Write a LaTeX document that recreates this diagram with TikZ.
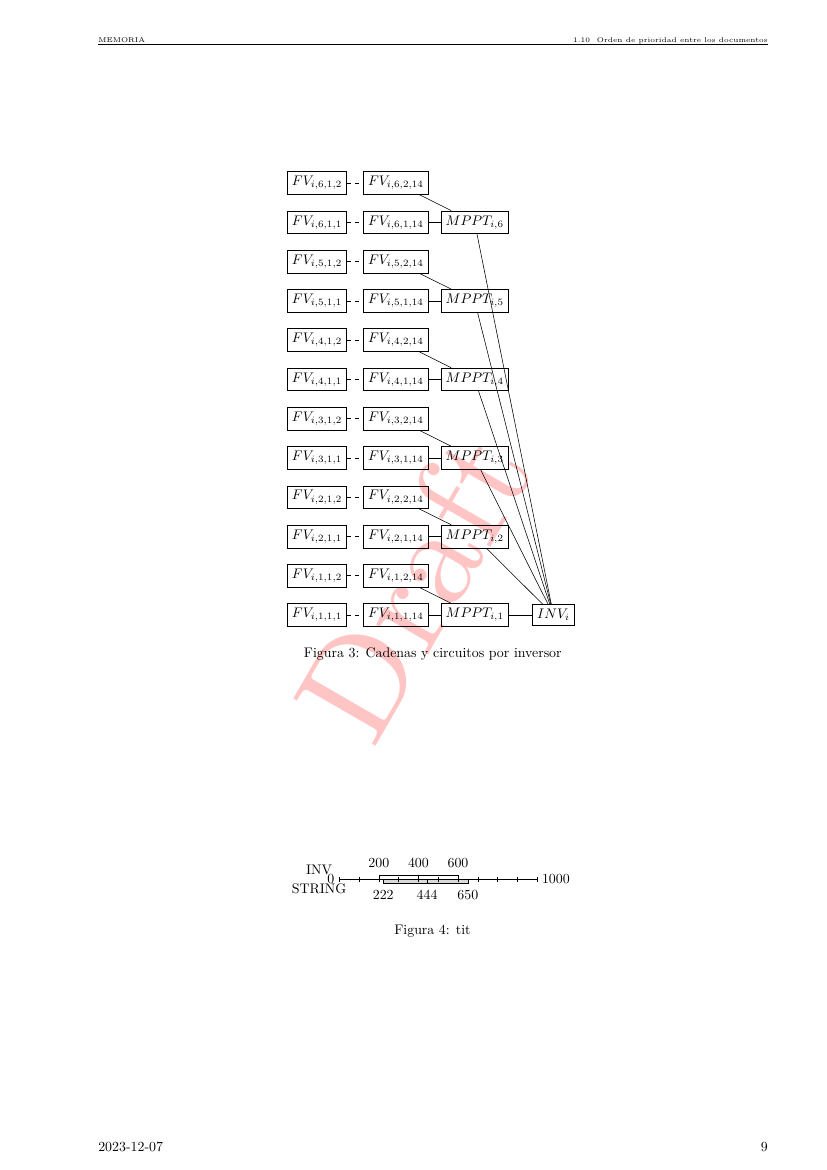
\documentclass[tikz,border=0pt]{standalone}
\usepackage{tikz}
\tikzset{
  fv/.style={draw, line width=0.4pt, inner sep=3.33pt},
  link/.style={line width=0.4pt},
  dlink/.style={line width=0.4pt, dashed},
  wm/.style={rotate=60, scale=10, text=red!45, opacity=0.5, inner sep=0pt},
  hdr/.style={font=\tiny, inner sep=0pt},
  lbl/.style={inner sep=0pt, anchor=base},
  axisline/.style={line width=0.4pt},
}
\begin{document}
\begin{tikzpicture}[x=0.71981pt, y=-0.71981pt]
\useasboundingbox (0,0) rectangle (827,1170);
% watermark
\node[wm] (wm) at (413.5,585) {Draft};
% header
\node[hdr, anchor=base west] (hl) at (98,42.2) {MEMORIA};
\node[hdr, anchor=base east] (hr) at (768,42.2) {1.10\quad Orden de prioridad entre los documentos};
\coordinate (rl) at (98,44.6);
\coordinate (rr) at (768,44.6);
\draw[line width=0.4pt] (rl) -- (rr);
% footer
\node[lbl, anchor=base west] (fl) at (98,1151.5) {2023-12-07};
\node[lbl, anchor=base east] (fr) at (768,1151.5) {9};
% figure 3
\begin{scope}[shift={(317,615)}, x=1.994cm, y=0.9935cm]
  \foreach \k/\y in {1/0,2/2,3/4,4/6,5/8,6/10} {
    \node[fv] (fa\k) at (0,\y) {$FV_{i,\k,1,1}$};
    \node[fv] (fb\k) at (1,\y) {$FV_{i,\k,1,14}$};
    \node[fv] (m\k) at (2,\y) {$MPPT_{i,\k}$};
    \node[fv] (fc\k) at (0,\y+1) {$FV_{i,\k,1,2}$};
    \node[fv] (fd\k) at (1,\y+1) {$FV_{i,\k,2,14}$};
  }
  \node[fv] (inv) at (3,0) {$INV_i$};
  \foreach \k in {1,...,6} {
    \draw[dlink] (fa\k) -- (fb\k);
    \draw[dlink] (fc\k) -- (fd\k);
    \draw[link] (fb\k) -- (m\k);
    \draw[link] (fd\k) -- (m\k);
    \draw[link] (m\k) -- (inv);
  }
\end{scope}
\node[lbl] (cap3) at (432.8,657) {Figura 3: Cadenas y circuitos por inversor};
% figure 4
\begin{scope}[shift={(339.3,879.3)}, x=0.005cm, y=1pt]
  \draw[axisline, fill=gray!30] (222,0) rectangle (650,-3);
  \draw[axisline] (200,0) rectangle (600,3);
  \coordinate (a0) at (0,0);
  \coordinate (a1) at (1000,0);
  \draw[axisline] (a0) -- (a1);
  \foreach \t in {0,100,...,1000} {
    \draw[axisline] (\t,-1.6) -- (\t,1.6);
  }
  \draw[axisline] (400,-1.6) -- (400,3);
  \draw[axisline] (444,0) -- (444,-3);
  \node[anchor=east] (n0) at (a0) {0};
  \node[anchor=west] (n1000) at (a1) {1000};
  \node[lbl] (t200) at (200,8.4) {200};
  \node[lbl] (t400) at (400,8.4) {400};
  \node[lbl] (t600) at (600,8.4) {600};
  \node[lbl] (b222) at (222,-14.4) {222};
  \node[lbl] (b444) at (444,-14.4) {444};
  \node[lbl] (b650) at (650,-14.4) {650};
  \node[inner sep=0pt] (linv) at (-102,6.5) {INV};
  \node[inner sep=0pt] (lstr) at (-102,-6.5) {STRING};
\end{scope}
\node[lbl] (cap4) at (432.5,934) {Figura 4: tit};
\end{tikzpicture}
\end{document}
